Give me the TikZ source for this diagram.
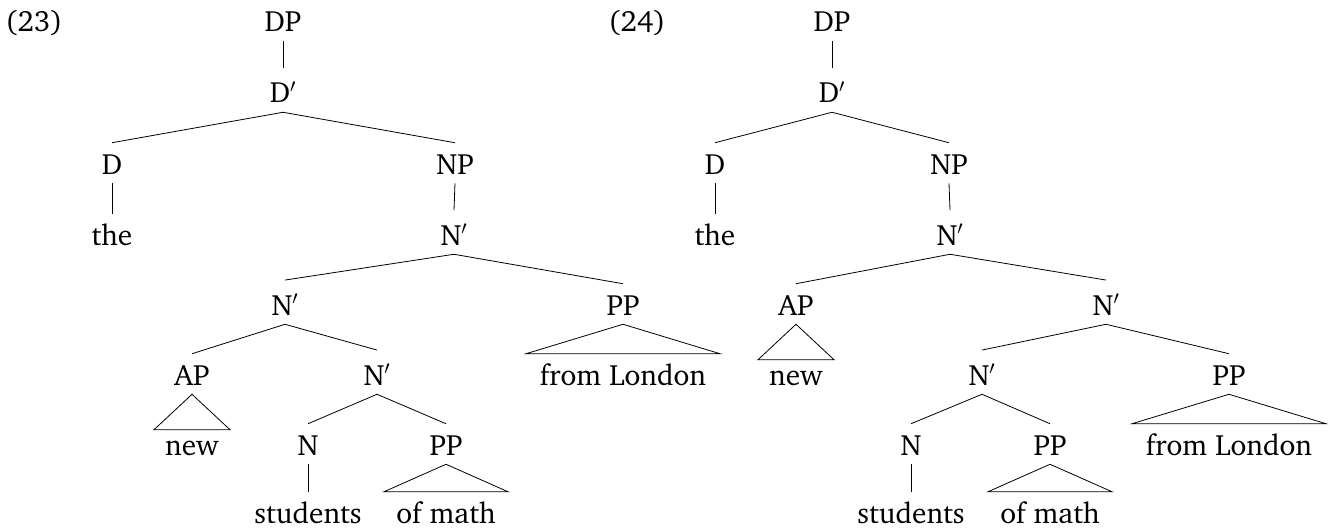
\documentclass[tikz,border=0pt]{standalone}
\usepackage[T1]{fontenc}
\usepackage{charter}
\usetikzlibrary{calc}
\tikzset{
  tn/.style={inner sep=0pt, anchor=base, text height=23.25pt, text depth=6.75pt, font=\fontsize{22}{26}\selectfont},
  tp/.style={tn, text height=26pt},
  lab/.style={inner sep=0pt, anchor=base, font=\fontsize{22}{26}\selectfont},
  br/.style={line width=0.6pt},
}
\newcommand{\pr}{$'$}
\begin{document}
\begin{tikzpicture}[x=0.75pt,y=-0.75pt]
\useasboundingbox (0,0) rectangle (1330,528);
% ---------- (23) ----------
\node[lab] (l23) at (34,32) {(23)};
\node[tn] (a0) at (283,32) {DP};
\node[tp] (a1) at (283,103) {D\pr};
\node[tn] (a2) at (112,174) {D};
\node[tn] (a3) at (455,174) {NP};
\node[tn] (a4) at (112,245) {the};
\node[tp] (a5) at (454,245) {N\pr};
\node[tp] (a6) at (285,315) {N\pr};
\node[tn] (a7) at (623,315) {PP};
\node[tn] (a8) at (192,385) {AP};
\node[tp] (a9) at (377,385) {N\pr};
\node[tn] (a10) at (623,385) {from London};
\node[tn] (a11) at (192,455) {new};
\node[tn] (a12) at (308,455) {N};
\node[tn] (a13) at (446,455) {PP};
\node[tn] (a14) at (308,523) {students};
\node[tn] (a15) at (446,523) {of math};
\draw[br] (a0.south) -- (a1.north);
\draw[br] (a1.south) -- (a2.north);
\draw[br] (a1.south) -- (a3.north);
\draw[br] (a2.south) -- (a4.north);
\draw[br] (a3.south) -- (a5.north);
\draw[br] (a5.south) -- (a6.north);
\draw[br] (a5.south) -- (a7.north);
\draw[br] (a6.south) -- (a8.north);
\draw[br] (a6.south) -- (a9.north);
\draw[br] (a9.south) -- (a12.north);
\draw[br] (a9.south) -- (a13.north);
\draw[br] (a12.south) -- (a14.north);
\draw[br] (a7.south) -- ($(a10.north)+(-97,0)$) -- ($(a10.north)+(97,0)$) -- cycle;
\draw[br] (a8.south) -- ($(a11.north)+(-38,6)$) -- ($(a11.north)+(38,6)$) -- cycle;
\draw[br] (a13.south) -- ($(a15.north)+(-62,0)$) -- ($(a15.north)+(62,0)$) -- cycle;
% ---------- (24) ----------
\node[lab] (l24) at (637,32) {(24)};
\node[tn] (b0) at (832,32) {DP};
\node[tp] (b1) at (832,103) {D\pr};
\node[tn] (b2) at (715,174) {D};
\node[tn] (b3) at (949,174) {NP};
\node[tn] (b4) at (715,245) {the};
\node[tp] (b5) at (950,245) {N\pr};
\node[tn] (b6) at (796,315) {AP};
\node[tp] (b7) at (1106,315) {N\pr};
\node[tn] (b8) at (796,385) {new};
\node[tp] (b9) at (982,385) {N\pr};
\node[tn] (b10) at (1229,385) {PP};
\node[tn] (b11) at (911,455) {N};
\node[tn] (b12) at (1050,455) {PP};
\node[tn] (b13) at (1229,455) {from London};
\node[tn] (b14) at (911,523) {students};
\node[tn] (b15) at (1050,523) {of math};
\draw[br] (b0.south) -- (b1.north);
\draw[br] (b1.south) -- (b2.north);
\draw[br] (b1.south) -- (b3.north);
\draw[br] (b2.south) -- (b4.north);
\draw[br] (b3.south) -- (b5.north);
\draw[br] (b5.south) -- (b6.north);
\draw[br] (b5.south) -- (b7.north);
\draw[br] (b7.south) -- (b9.north);
\draw[br] (b7.south) -- (b10.north);
\draw[br] (b9.south) -- (b11.north);
\draw[br] (b9.south) -- (b12.north);
\draw[br] (b11.south) -- (b14.north);
\draw[br] (b6.south) -- ($(b8.north)+(-38,6)$) -- ($(b8.north)+(38,6)$) -- cycle;
\draw[br] (b10.south) -- ($(b13.north)+(-97,0)$) -- ($(b13.north)+(97,0)$) -- cycle;
\draw[br] (b12.south) -- ($(b15.north)+(-62,0)$) -- ($(b15.north)+(62,0)$) -- cycle;
\end{tikzpicture}
\end{document}
